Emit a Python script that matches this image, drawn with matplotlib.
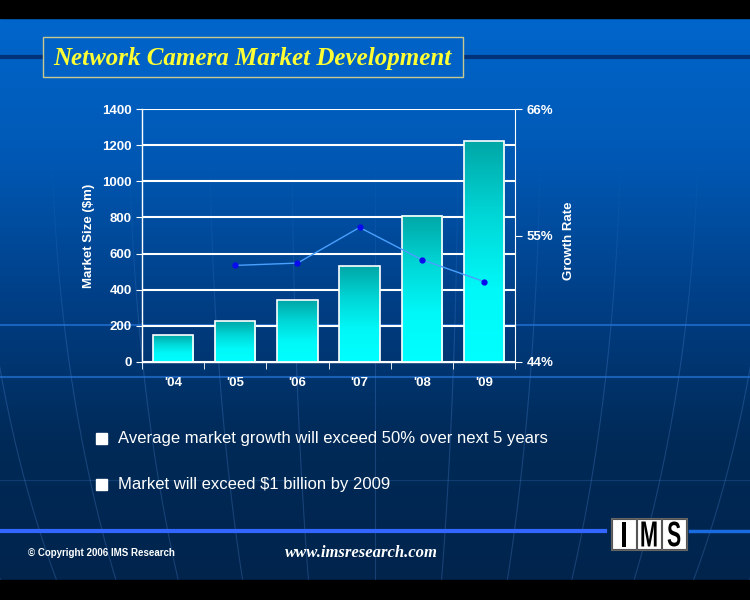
import numpy as np
import matplotlib
matplotlib.use('Agg')
import matplotlib.pyplot as plt
from matplotlib.colors import LinearSegmentedColormap
from matplotlib.patches import Rectangle, PathPatch
from matplotlib.textpath import TextPath
from matplotlib.font_manager import FontProperties
from matplotlib.transforms import Affine2D
from matplotlib.collections import LineCollection

years = ["'04", "'05", "'06", "'07", "'08", "'09"]
market_size = [148, 225, 342, 530, 809, 1222]
growth_rate = [52.4, 52.6, 55.7, 52.9, 51.0]   # '05 .. '09
size_ticks = [0, 200, 400, 600, 800, 1000, 1200, 1400]
rate_ticks = [44, 55, 66]
bullets = ['Average market growth will exceed 50% over next 5 years',
           'Market will exceed $1 billion by 2009']

sans = 'Liberation Sans'
serif = 'Liberation Serif'

fig = plt.figure(figsize=(7.5, 6), dpi=100)
fig.patch.set_facecolor('black')

# slide background, drawn in pixel coords
bg = fig.add_axes([0, 0, 1, 1])
bg.set_xlim(0, 750)
bg.set_ylim(600, 0)
bg.axis('off')
bg_cmap = LinearSegmentedColormap.from_list('bg', ['#0066cc', '#0058b4', '#003f86', '#002a58', '#00244c'])
grad = np.linspace(0, 1, 256).reshape(-1, 1)
bg.imshow(grad, extent=[0, 750, 580, 18], cmap=bg_cmap, aspect='auto', zorder=0)
bg.add_patch(Rectangle((0, 0), 750, 18, color='black', zorder=1))
bg.add_patch(Rectangle((0, 580), 750, 20, color='black', zorder=1))

# faint globe meridians, fading out towards the top
yy = np.linspace(150, 580, 80)
lat = np.arcsin((yy - 100) / 800)
fade = np.clip((yy[:-1] - 150) / 200, 0, 1) * 0.22
for lon in np.linspace(-1.25, 1.25, 25):
    xx = 375 + 800 * np.sin(lon) * np.cos(lat)
    pts = np.column_stack([xx, yy])
    segs = np.stack([pts[:-1], pts[1:]], axis=1)
    cols = [(0.44, 0.66, 1.0, a) for a in fade]
    bg.add_collection(LineCollection(segs, colors=cols, linewidths=0.8, zorder=0.5))
bg.plot([0, 750], [480, 480], color='#4f8fe8', lw=0.8, alpha=0.2, zorder=0.5)

# horizontal slide lines
bg.plot([0, 750], [57, 57], color='#00327a', lw=3, zorder=1)
bg.plot([0, 750], [325, 325], color='#2a7de8', lw=1.5, alpha=0.6, zorder=0.6)
bg.plot([0, 750], [377, 377], color='#2a7de8', lw=1.5, alpha=0.6, zorder=0.6)
bg.plot([0, 605], [531, 531], color='#3366ff', lw=3, zorder=1)
bg.plot([690, 750], [531, 531], color='#1a6be0', lw=2.5, zorder=1)

# title box
bg.add_patch(Rectangle((43, 37), 420, 40, facecolor='#0062c6', edgecolor='#c8c890', lw=1, zorder=2))
bg.text(53, 58, 'Network Camera Market Development', color='#ffff33', fontsize=18,
        family=serif, weight='bold', style='italic', va='center', ha='left', zorder=3)

# bullets
for i, txt in enumerate(bullets):
    y = 438 + 46 * i
    bg.add_patch(Rectangle((96, y - 5.5), 11, 11, color='white', zorder=2))
    bg.text(118, y, txt, color='white', fontsize=12, family=sans, va='center', ha='left', zorder=3)

# footer
bg.text(28, 553, '© Copyright 2006 IMS Research', color='white', fontsize=7, family=sans,
        weight='bold', va='center', ha='left')
bg.text(285, 553, 'www.imsresearch.com', color='white', fontsize=12, family=serif,
        weight='bold', style='italic', va='center', ha='left')

# IMS logo: narrow tall letters in white cells
bg.add_patch(Rectangle((611, 518), 76, 32, facecolor='white', edgecolor='#666666', lw=0.8, zorder=2))
logo_font = FontProperties(family=sans, weight='bold')
for j, ch in enumerate('IMS'):
    x0 = 612 + 25 * j
    bg.add_patch(Rectangle((x0, 519), 24, 30, facecolor='white', edgecolor='#555555', lw=0.8, zorder=3))
    tp = TextPath((0, 0), ch, size=30, prop=logo_font)
    ext = tp.get_extents()
    sy = 25 / ext.height
    sx = sy * 0.6
    w = ext.width * sx
    tr = Affine2D().translate(-ext.x0, -ext.y0).scale(sx, -sy).translate(x0 + 12 - w / 2, 546.5)
    bg.add_patch(PathPatch(tr.transform_path(tp), facecolor='black', edgecolor='none', zorder=4))

# chart
ax = fig.add_axes([142 / 750, 1 - 362 / 600, 373 / 750, 253 / 600])
ax.set_facecolor('none')
x = np.arange(len(years))
bars = ax.bar(x, market_size, width=0.65, facecolor='none', edgecolor='white', lw=1.2, zorder=3)
bar_cmap = LinearSegmentedColormap.from_list('bar', ['#00a6a6', '#00d6d6', '#00f8f8', '#00ffff'])
for b in bars:
    ax.imshow(grad, extent=[b.get_x(), b.get_x() + b.get_width(), 0, b.get_height()],
              cmap=bar_cmap, aspect='auto', zorder=2.5)
ax.set_xlim(-0.5, len(years) - 0.5)
ax.set_ylim(0, 1400)
ax.set_aspect('auto')
ax.set_yticks(size_ticks)
ax.grid(axis='y', color='white', lw=1.5, zorder=1)
ax.set_axisbelow(True)
ax.set_xticks(x)
ax.set_xticklabels(years)
ax.set_xticks(np.arange(-0.5, len(years)), minor=True)
ax.tick_params(axis='x', which='major', length=0, pad=11, colors='white')
ax.tick_params(axis='x', which='minor', length=5, color='white')
ax.tick_params(axis='y', length=4, color='white', colors='white')
for lab in ax.get_xticklabels() + ax.get_yticklabels():
    lab.set_fontfamily(sans)
    lab.set_fontweight('bold')
    lab.set_fontsize(9.5)
for s in ['top', 'right']:
    ax.spines[s].set_visible(False)
for s in ['left', 'bottom']:
    ax.spines[s].set_color('white')
    ax.spines[s].set_linewidth(1)
ax.set_ylabel('Market Size ($m)', color='white', fontsize=9.5, family=sans, weight='bold')
ax.yaxis.set_label_coords(-0.125, 0.5)

ax2 = ax.twinx()
ax2.plot(x[1:], growth_rate, color='#4aa0ff', lw=1, marker='o', ms=3.5,
         mfc='#0a0aee', mec='#0a0aee', zorder=5)
ax2.set_ylim(44, 66)
ax2.set_yticks(rate_ticks)
ax2.set_yticklabels([f'{t}%' for t in rate_ticks])
ax2.tick_params(axis='y', length=5, color='white', colors='white')
for lab in ax2.get_yticklabels():
    lab.set_fontfamily(sans)
    lab.set_fontweight('bold')
    lab.set_fontsize(9.5)
for s in ['top', 'left', 'bottom']:
    ax2.spines[s].set_visible(False)
ax2.spines['right'].set_color('white')
ax2.set_ylabel('Growth Rate', color='white', fontsize=9.5, family=sans, weight='bold')
ax2.yaxis.set_label_coords(1.13, 0.48)

fig.savefig('out.png', dpi=100, facecolor=fig.get_facecolor())
